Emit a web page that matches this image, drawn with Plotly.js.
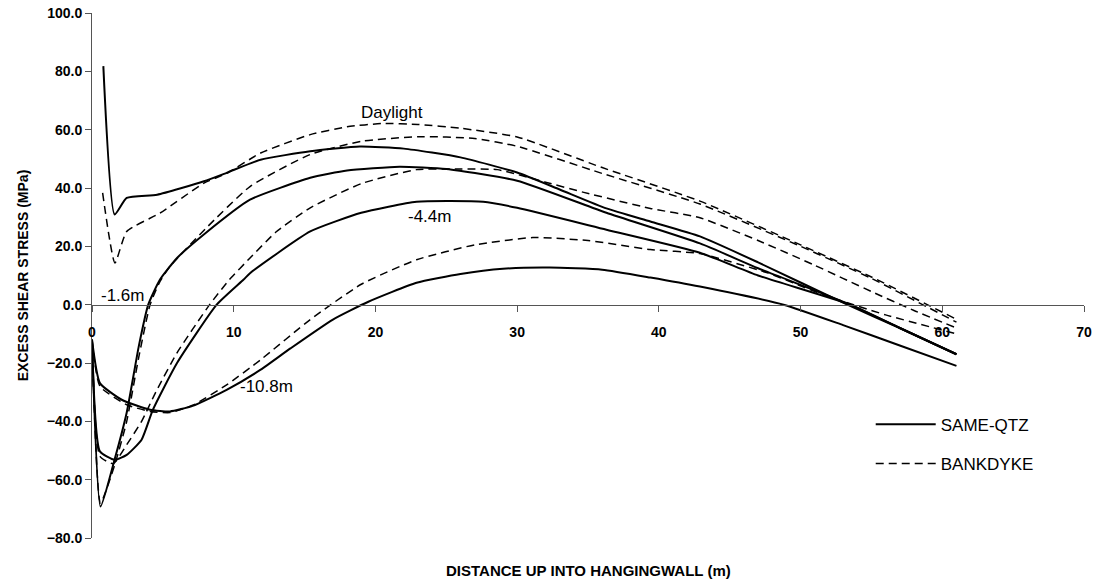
<!DOCTYPE html>
<html><head><meta charset="utf-8">
<script src="https://cdn.plot.ly/plotly-3.0.1.min.js"></script>
<style>html,body{margin:0;padding:0;background:#fff}#chart{width:1098px;height:587px}</style>
</head><body><div id="chart"></div>
<script>
// SAME-QTZ (solid)
const sqDayX = [0.8, 1.6, 2.45, 4.6, 7.9, 9.5, 11.9, 15.4, 18.9, 22, 26, 30, 33, 36.3, 39.4, 42.9, 47, 53.3, 57, 61];
const sqDayY = [81.8, 30.9, 36.6, 37.7, 42.3, 45.2, 49.7, 52.6, 54.2, 53.5, 50.5, 45.3, 39.5, 33, 28.5, 23.4, 14.5, 0, -8, -17];
const sq16X = [0, 0.6, 1.6, 2.45, 3.3, 3.97, 4.8, 6, 8, 11.15, 15.4, 18, 21.7, 25, 30, 36.3, 42.9, 47, 53.5, 57, 61];
const sq16Y = [-12, -69.2, -53, -37, -14.3, 0, 8.6, 16, 24.5, 36, 43.5, 46, 47.3, 46.5, 42.5, 31.5, 21, 12.5, 0, -8, -17];
const sq44X = [0, 0.56, 1.6, 2.45, 3.5, 4.3, 6, 8.8, 10.7, 11.15, 15.4, 19, 22.9, 27.6, 30, 36.3, 42.9, 47, 53.5, 57, 61];
const sq44Y = [-12, -50.3, -53.2, -51.5, -46.3, -36, -20, 0, 8.6, 10.8, 25.1, 31.5, 35.3, 35.3, 33.2, 25.7, 17.8, 10, 0, -8, -17];
const sq108X = [0, 0.56, 2.1, 4.1, 5.5, 7.1, 9.5, 11.9, 14, 17, 19.5, 22.9, 26, 29, 32.3, 36, 39.4, 42.9, 48.8, 53, 57, 61];
const sq108Y = [-12, -26.9, -32.6, -36, -36.6, -34.7, -29.2, -22.3, -15, -5.1, 1, 7.5, 10.5, 12.3, 12.7, 12, 9.3, 6.2, 0, -7, -14, -21];
// BANKDYKE (dashed)
const bdDayX = [0.75, 1.62, 2.45, 4.8, 7.9, 9.5, 11.9, 15.4, 18, 20.5, 23, 26, 30, 36, 42.9, 50, 55, 61];
const bdDayY = [38.3, 14.3, 25.1, 31.4, 41.7, 45, 52, 58.3, 61, 62.1, 61.8, 60.5, 57.5, 47, 35.5, 20.5, 9.5, -5];
const bd16X = [0, 0.6, 1.6, 2.45, 3.3, 4.1, 4.8, 5.5, 8, 11.15, 15.4, 19, 23, 27, 30, 36, 42.9, 50, 55, 61];
const bd16Y = [-12, -68, -55, -40, -18, 0, 8, 13.1, 26, 40.5, 51.5, 56, 57.6, 57, 54.3, 45, 34.5, 20, 9, -6];
const bd44X = [0, 0.56, 1.5, 2.45, 3.5, 4.5, 6, 8.3, 9.7, 11.15, 13, 15.4, 19, 22.9, 26, 28.6, 32, 34.7, 39.4, 42.9, 47, 51, 55, 58, 61];
const bd44Y = [-12, -52, -54.5, -48, -40, -30, -16.5, 0, 8.6, 16, 25, 33.2, 41.5, 46.3, 46.5, 46.3, 42, 38.5, 33, 29.8, 22, 13.5, 4.5, -2, -8];
const bd108X = [0, 0.56, 2.45, 4.1, 5.5, 7.1, 9.5, 11.9, 15.4, 19, 22.9, 27, 31.1, 35, 39.4, 42.9, 47.6, 51.6, 56, 61];
const bd108Y = [-12, -28, -34.3, -36.6, -37, -34.5, -27.5, -18.9, -5.1, 7, 15.4, 20.5, 23, 22, 18.9, 17.5, 11, 3.4, -3.5, -10];

const xTickVals = [0, 10, 20, 30, 40, 50, 60, 70];
const curveLabels = ['Daylight', '-1.6m', '-4.4m', '-10.8m'];
const labelX = [21.2, 2.15, 23.8, 12.3];
const labelY = [65.8, 3.1, 30.2, -28];

const solid = {color: '#000', width: 2, shape: 'spline', smoothing: 0.5};
const dashed = {color: '#000', width: 1.5, dash: '8px,5px', shape: 'spline', smoothing: 0.5};

function tr(x, y, line, name, show, grp) {
  return {x: x, y: y, type: 'scatter', mode: 'lines', line: line, name: name,
          showlegend: show, legendgroup: grp, hoverinfo: 'skip'};
}
const data = [
  tr(sqDayX, sqDayY, solid, 'SAME-QTZ', true, 'a'),
  tr(sq16X, sq16Y, solid, 'SAME-QTZ', false, 'a'),
  tr(sq44X, sq44Y, solid, 'SAME-QTZ', false, 'a'),
  tr(sq108X, sq108Y, solid, 'SAME-QTZ', false, 'a'),
  tr(bdDayX, bdDayY, dashed, 'BANKDYKE', true, 'b'),
  tr(bd16X, bd16Y, dashed, 'BANKDYKE', false, 'b'),
  tr(bd44X, bd44Y, dashed, 'BANKDYKE', false, 'b'),
  tr(bd108X, bd108Y, dashed, 'BANKDYKE', false, 'b')
];

const fam = '"Liberation Sans", Arial, sans-serif';
const annotations = curveLabels.map((t, i) => ({
  text: t, x: labelX[i], y: labelY[i], xref: 'x', yref: 'y', showarrow: false,
  font: {family: fam, size: 17, color: '#000'}
}));
annotations.push({
  text: 'DISTANCE UP INTO HANGINGWALL (m)', xref: 'paper', yref: 'paper',
  x: 0.5, y: -0.061, yanchor: 'middle', showarrow: false,
  font: {family: fam, size: 15, color: '#000', weight: 'bold'}
});

const layout = {
  width: 1098, height: 587,
  margin: {l: 92, r: 14, t: 13, b: 49},
  paper_bgcolor: '#fff', plot_bgcolor: '#fff',
  showlegend: true,
  legend: {x: 0.785, y: 0.25, xanchor: 'left', yanchor: 'top', tracegroupgap: 14,
           itemwidth: 60,
           font: {family: fam, size: 17, color: '#000'}, bgcolor: 'rgba(0,0,0,0)'},
  xaxis: {range: [0, 70], tickvals: xTickVals, ticktext: xTickVals.map(String),
          anchor: 'free', position: 80 / 180, showgrid: false, zeroline: false,
          showline: true, linecolor: '#555', linewidth: 1, ticks: 'outside', ticklen: 6,
          tickcolor: '#555', ticklabelstandoff: 9,
          tickfont: {family: fam, size: 14, color: '#000', weight: 'bold'}},
  yaxis: {range: [-80, 100], dtick: 20, tick0: 0, tickformat: '.1f', showgrid: false,
          zeroline: false, showline: true, linecolor: '#555', linewidth: 1,
          ticks: 'outside', ticklen: 6, tickcolor: '#555',
          tickfont: {family: fam, size: 14, color: '#000', weight: 'bold'},
          title: {text: 'EXCESS SHEAR STRESS (MPa)', standoff: 14,
                  font: {family: fam, size: 14, color: '#000', weight: 'bold'}}},
  annotations: annotations
};
Plotly.newPlot('chart', data, layout, {displayModeBar: false, staticPlot: true});
</script>
</body></html>
